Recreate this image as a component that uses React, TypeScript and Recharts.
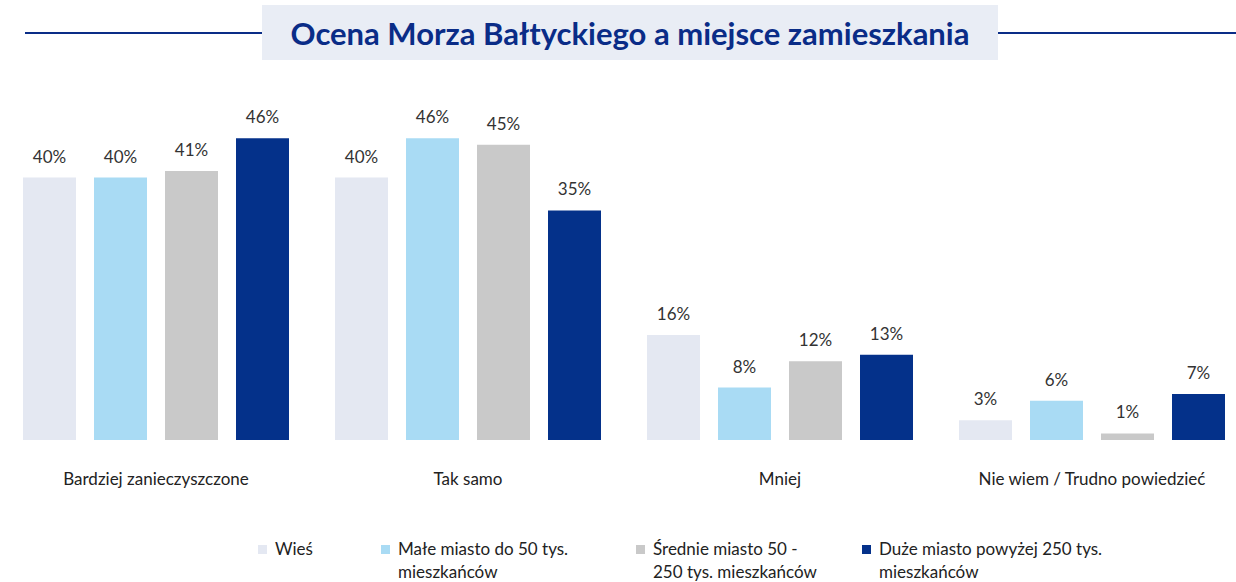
import React from "react";
import { BarChart, Bar, XAxis, YAxis, LabelList } from "recharts";

const categories = [
  "Bardziej zanieczyszczone",
  "Tak samo",
  "Mniej",
  "Nie wiem / Trudno powiedzieć",
];
const wies = [40, 40, 16, 3];
const maleMiasto = [40, 46, 8, 6];
const srednieMiasto = [41, 45, 12, 1];
const duzeMiasto = [46, 35, 13, 7];

const seriesNames = [
  ["Wieś"],
  ["Małe miasto do 50 tys.", "mieszkańców"],
  ["Średnie miasto 50 -", "250 tys. mieszkańców"],
  ["Duże miasto powyżej 250 tys.", "mieszkańców"],
];
const colors = ["#e4e8f2", "#a9dbf4", "#c9c9c9", "#04318a"];

const data = categories.map((name, i) => ({
  name,
  wies: wies[i],
  male: maleMiasto[i],
  srednie: srednieMiasto[i],
  duze: duzeMiasto[i],
}));
const keys = ["wies", "male", "srednie", "duze"];

const font = "Lato, 'Open Sans', sans-serif";
const legendX = [258, 381, 636, 862];

export default function App() {
  return (
    <div
      style={{
        position: "absolute",
        left: 0,
        top: 0,
        width: 1236,
        height: 582,
        overflow: "hidden",
        background: "#fff",
        fontFamily: font,
      }}
    >
      {/* title with side rules */}
      <div style={{ position: "absolute", left: 25, top: 32, width: 240, height: 2, background: "#0a2d87" }} />
      <div style={{ position: "absolute", left: 996, top: 32, width: 240, height: 2, background: "#0a2d87" }} />
      <div
        style={{
          position: "absolute",
          left: 262,
          top: 5,
          width: 736,
          height: 55,
          background: "#e9edf5",
          display: "flex",
          alignItems: "center",
          justifyContent: "center",
          color: "#0a2c87",
          fontWeight: 700,
          fontSize: 31,
        }}
      >
        Ocena Morza Bałtyckiego a miejsce zamieszkania
      </div>

      <div style={{ position: "absolute", left: 0, top: 0 }}>
        <BarChart
          width={1248}
          height={582}
          data={data}
          margin={{ top: 112, right: 0, bottom: 102, left: 0 }}
          barGap={18}
          barSize={53}
        >
          <XAxis
            dataKey="name"
            axisLine={false}
            tickLine={false}
            tickMargin={27}
            height={40}
            interval={0}
            tick={{ fill: "#222", fontSize: 17, fontFamily: font }}
          />
          <YAxis hide domain={[0, 50]} />
          {keys.map((k, i) => (
            <Bar key={k} dataKey={k} fill={colors[i]} isAnimationActive={false}>
              <LabelList
                dataKey={k}
                position="top"
                offset={15}
                formatter={(v: any) => `${v}%`}
                style={{ fill: "#333", fontSize: 17, fontFamily: font }}
              />
            </Bar>
          ))}
        </BarChart>
      </div>

      {/* legend */}
      {seriesNames.map((lines, i) => (
        <div
          key={i}
          style={{
            position: "absolute",
            left: legendX[i],
            top: 537,
            display: "flex",
            alignItems: "flex-start",
            fontSize: 17,
            color: "#222",
            lineHeight: "23px",
          }}
        >
          <span
            style={{
              display: "inline-block",
              width: 9,
              height: 9,
              background: colors[i],
              marginTop: 8,
              marginRight: 8,
            }}
          />
          <span>
            {lines.map((l, j) => (
              <div key={j}>{l}</div>
            ))}
          </span>
        </div>
      ))}
    </div>
  );
}
